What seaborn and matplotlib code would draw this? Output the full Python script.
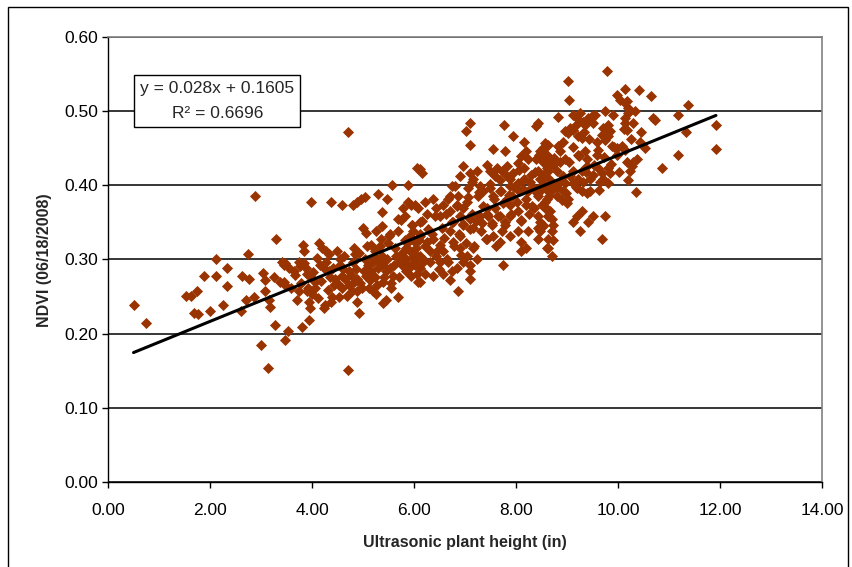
import pandas as pd
import seaborn as sns
import matplotlib.pyplot as plt
from matplotlib.patches import Rectangle

# points (height in, NDVI)
left_tail = [(0.50,0.238),(0.75,0.214),(1.52,0.251),(1.62,0.251),(1.68,0.228),(1.74,0.257),(1.76,0.226),
             (1.88,0.278),(2.00,0.230),(2.12,0.301),(2.12,0.278),(2.26,0.238),(2.34,0.288),(2.34,0.264),
             (2.61,0.230),(2.63,0.278),(2.71,0.246),(2.75,0.308),(2.77,0.274),(2.87,0.250),(2.89,0.385),
             (2.99,0.185),(3.03,0.282),(3.07,0.273),(3.07,0.258),(3.13,0.153),(3.15,0.246),(3.17,0.236),
             (3.25,0.276),(3.27,0.212),(3.29,0.327),(3.37,0.270),(3.45,0.293),(3.47,0.192),(3.52,0.203)]

mid_low = [(4.71,0.472),(6.12,0.422),(5.56,0.400),(5.88,0.400),(3.98,0.377),(4.38,0.378),(4.59,0.374),
           (4.81,0.374),(4.89,0.378),(4.97,0.381),(5.03,0.384),(5.29,0.388),(5.47,0.382),(5.37,0.364),
           (5.78,0.369),(5.88,0.378),(5.94,0.373),(5.74,0.353),(5.68,0.355),(5.82,0.358),(4.99,0.343),
           (5.05,0.336),(5.25,0.338),(5.37,0.345),(5.52,0.335),(5.50,0.331),(3.82,0.319),(4.14,0.322),
           (4.20,0.315),(4.28,0.311),(4.34,0.308),(3.84,0.311),(4.55,0.301),(4.83,0.315),(4.85,0.308),
           (5.15,0.320),(5.23,0.312),(5.33,0.318),(5.37,0.305),
           (3.41,0.297),(3.47,0.295),(3.54,0.288),(3.64,0.284),(3.45,0.270),(3.47,0.266),(3.74,0.297),
           (3.76,0.291),(3.84,0.295),(3.90,0.281),(3.96,0.278),(3.74,0.258),(3.90,0.258),(4.00,0.254),
           (4.06,0.261),(4.06,0.270),(3.94,0.243),(3.96,0.234),(4.24,0.234),(4.26,0.238),(3.94,0.218),
           (3.80,0.209),(4.16,0.292),(4.24,0.288),(4.34,0.284),(4.36,0.277),(4.46,0.274),(4.44,0.265),
           (4.55,0.292),(4.59,0.278),(4.65,0.274),(4.73,0.284),(4.40,0.250),(4.53,0.250),(4.59,0.261),
           (4.73,0.265),(4.79,0.258),(4.89,0.257),(4.83,0.270),(4.89,0.274),(4.95,0.268),(4.89,0.243),
           (4.93,0.228),(4.71,0.151),(5.03,0.301),(5.09,0.292),(5.19,0.297),(5.29,0.288),(5.05,0.278),
           (5.13,0.272),(5.23,0.277),(5.19,0.258),(5.25,0.254),(5.39,0.292),(5.45,0.284),(5.52,0.288),
           (5.58,0.278),(5.39,0.270),(5.45,0.245),(5.39,0.241),(5.54,0.261),(5.68,0.250),(5.64,0.305),
           (5.72,0.297),(5.78,0.291),(5.84,0.301),(5.92,0.311),(5.98,0.304),(6.04,0.315),(6.12,0.305),
           (6.02,0.292),(6.12,0.288),(5.84,0.284),(5.94,0.278),(6.12,0.270),(5.82,0.326),(5.92,0.332),
           (6.02,0.324),(6.12,0.335),(5.98,0.339),(5.84,0.315)]

mid_fill = [(3.58,0.262),(3.66,0.279),(3.71,0.246),(3.79,0.268),(3.88,0.289),(3.93,0.262),(4.02,0.283),
            (4.09,0.302),(4.11,0.248),(4.18,0.271),(4.27,0.296),(4.31,0.259),(4.38,0.242),(4.42,0.289),
            (4.49,0.312),(4.52,0.266),(4.61,0.287),(4.63,0.305),(4.69,0.251),(4.76,0.279),(4.81,0.296),
            (4.87,0.287),(4.92,0.309),(4.98,0.262),(5.01,0.285),(5.07,0.318),(5.11,0.261),(5.16,0.284),
            (5.21,0.305),(5.27,0.266),(5.31,0.296),(5.35,0.327),(5.42,0.276),(5.47,0.301),(5.49,0.322),
            (5.55,0.268),(5.61,0.292),(5.63,0.315),(5.69,0.338),(5.71,0.276),(5.76,0.309),(5.81,0.296),
            (5.87,0.322),(5.91,0.289),(5.96,0.347),(6.01,0.308),(6.06,0.281),(6.09,0.326),(6.15,0.352),
            (6.19,0.299)]

upper_mid = [(7.10,0.484),(7.02,0.473),(7.10,0.454),(7.77,0.481),(8.39,0.480),(8.44,0.484),(7.95,0.466),
             (8.15,0.459),(7.55,0.449),(7.79,0.446),(8.19,0.446),(8.09,0.439),(8.03,0.430),(8.15,0.423),
             (8.54,0.450),(8.62,0.454),(8.52,0.439),(8.39,0.436),(6.05,0.423),(6.15,0.416),(6.96,0.426),
             (6.90,0.412),(7.10,0.416),(7.24,0.419),(7.16,0.409),(7.43,0.427),(7.49,0.420),(7.63,0.423),
             (7.73,0.420),(7.83,0.426),(7.59,0.412),(7.69,0.407),(7.89,0.409),(7.95,0.416),(8.03,0.403),
             (8.15,0.409),(8.29,0.414),(8.43,0.420),(8.52,0.414),(8.62,0.426),(6.74,0.399),(6.80,0.399),
             (6.70,0.386),(6.86,0.386),(7.06,0.396),(7.14,0.405),(7.30,0.399),(7.26,0.385),(7.36,0.392),
             (7.49,0.396),(7.55,0.385),(7.69,0.392),(7.89,0.399),(7.83,0.382),(7.93,0.386),(8.05,0.392),
             (8.23,0.393),(8.35,0.396),(8.44,0.385),(8.54,0.400),(8.64,0.396),(8.64,0.386)]

center = [(6.01,0.373),(6.07,0.369),(6.21,0.378),(6.37,0.382),(6.25,0.362),(6.11,0.351),(5.97,0.346),
          (6.44,0.369),(6.56,0.373),(6.50,0.358),(6.66,0.382),(6.70,0.365),(6.84,0.373),(6.90,0.359),
          (6.96,0.369),(7.04,0.378),(6.76,0.351),(6.96,0.346),(7.10,0.355),(7.16,0.342),(7.30,0.359),
          (7.34,0.349),(7.43,0.369),(7.45,0.359),(7.53,0.346),(7.59,0.369),(7.69,0.358),(7.79,0.346),
          (7.89,0.373),(7.89,0.359),(8.03,0.365),(8.09,0.353),(8.19,0.373),(8.25,0.362),(8.35,0.369),
          (8.44,0.358),(8.52,0.345),(8.58,0.369),(8.62,0.358),(7.73,0.338),(8.03,0.338),(8.23,0.338),
          (8.44,0.342),(5.97,0.328),(6.11,0.332),(6.25,0.324),(6.37,0.328),(6.50,0.319),(6.31,0.311),
          (6.44,0.305),(6.56,0.311),(6.64,0.301),(6.50,0.297),(6.76,0.324),(6.90,0.332),(6.90,0.315),
          (7.04,0.305),(7.16,0.315),(7.24,0.301),(6.96,0.297),(7.10,0.292),(6.84,0.288),(6.74,0.284),
          (6.56,0.281),(6.37,0.278),(6.21,0.281),(6.07,0.270),(6.70,0.272),(7.10,0.284),(7.10,0.274),
          (6.86,0.257),(7.43,0.328),(7.55,0.332),(7.69,0.324),(7.89,0.332),(8.09,0.324),(8.09,0.312),
          (8.19,0.315),(7.75,0.293),(8.43,0.328),(8.62,0.315),(8.62,0.328),(6.05,0.301),(6.17,0.297),
          (5.95,0.292)]

center_fill = [(6.22,0.318),(6.27,0.341),(6.31,0.296),(6.36,0.334),(6.41,0.358),(6.45,0.312),(6.49,0.287),
               (6.54,0.342),(6.58,0.329),(6.62,0.361),(6.66,0.296),(6.71,0.338),(6.75,0.351),(6.79,0.318),
               (6.84,0.372),(6.88,0.335),(6.92,0.306),(6.96,0.348),(7.01,0.322),(7.06,0.384),(7.09,0.341),
               (7.14,0.362),(7.18,0.318),(7.22,0.352),(7.27,0.391),(7.31,0.338),(7.35,0.372),(7.41,0.327),
               (7.44,0.361),(7.48,0.402),(7.53,0.349),(7.57,0.381),(7.61,0.318),(7.65,0.358),(7.71,0.392),
               (7.74,0.376),(7.79,0.351),(7.83,0.412),(7.87,0.387),(7.91,0.362),(7.96,0.398),(8.01,0.378),
               (8.05,0.421),(8.09,0.352),(8.14,0.395),(8.19,0.381),(8.23,0.436),(8.28,0.404),(8.32,0.372),
               (8.37,0.418),(8.41,0.389),(8.46,0.441),(8.51,0.401),(8.56,0.377)]

upper_right = [(9.78,0.554),(9.02,0.541),(9.04,0.515),(10.14,0.530),(10.41,0.528),(10.65,0.520),(9.98,0.522),
               (10.04,0.515),(10.14,0.511),(10.20,0.504),(10.18,0.514),(10.33,0.500),(9.75,0.500),(9.90,0.495),
               (8.82,0.492),(9.12,0.495),(9.20,0.491),(9.25,0.497),(9.31,0.486),(9.41,0.491),(9.49,0.493),
               (9.55,0.495),(9.35,0.481),(9.51,0.484),(9.18,0.481),(10.14,0.491),(10.20,0.497),(10.29,0.484),
               (10.14,0.484),(10.69,0.491),(10.73,0.488),(11.18,0.495),(9.71,0.477),(9.80,0.481),(9.84,0.473),
               (9.69,0.468),(9.80,0.466),(9.75,0.461),(10.18,0.474),(8.96,0.473),(9.06,0.477),(9.02,0.470),
               (9.12,0.474),(9.22,0.466),(9.29,0.464),(8.57,0.457),(8.53,0.450),(8.47,0.446),(8.61,0.441),
               (8.82,0.453),(8.92,0.459),(10.43,0.459),(9.88,0.453),(9.98,0.450),(10.08,0.453),(10.14,0.447),
               (9.35,0.446),(9.61,0.447),(9.59,0.441),(9.39,0.436),(11.18,0.441),(9.98,0.441),(10.37,0.436),
               (10.29,0.432),(10.27,0.426),(10.24,0.419),(10.20,0.407),(10.86,0.423)]

lower_right = [(8.47,0.441),(8.53,0.432),(8.61,0.423),(8.67,0.436),(8.73,0.427),(8.80,0.419),(8.86,0.432),
               (8.96,0.436),(9.22,0.441),(9.12,0.419),(9.29,0.419),(9.39,0.426),(9.51,0.414),(9.61,0.423),
               (9.69,0.416),(9.80,0.423),(9.71,0.409),(9.84,0.416),(9.65,0.405),(9.80,0.403),(9.31,0.405),
               (9.45,0.409),(9.29,0.392),(9.39,0.389),(9.45,0.392),(8.47,0.409),(8.57,0.412),(8.67,0.407),
               (8.53,0.400),(8.63,0.393),(8.76,0.400),(8.86,0.405),(8.96,0.403),(9.06,0.412),(9.12,0.403),
               (9.22,0.409),(9.20,0.396),(8.92,0.392),(8.80,0.386),(8.47,0.392),(8.90,0.380),(9.00,0.376),
               (9.02,0.382),(8.61,0.382),(8.51,0.373),(8.57,0.369),(8.67,0.365),(8.63,0.359),(8.71,0.355),
               (8.73,0.346),(8.71,0.338),(8.73,0.326),(8.61,0.315),(8.71,0.305),(8.47,0.351),(8.47,0.338),
               (8.53,0.346),(9.20,0.358),(9.12,0.351),(9.29,0.365),(9.41,0.351),(9.51,0.359),(9.25,0.338),
               (9.69,0.328),(9.75,0.358)]

right_fill = [(8.63,0.419),(8.68,0.392),(8.74,0.437),(8.81,0.398),(8.86,0.446),(8.93,0.412),(8.98,0.389),
              (9.04,0.431),(9.11,0.452),(9.17,0.398),(9.24,0.439),(9.33,0.472),(9.38,0.418),(9.44,0.462),
              (9.52,0.427),(9.58,0.458),(9.63,0.394),(9.72,0.438),(9.81,0.472),(9.86,0.429),(9.93,0.452),
              (10.02,0.418),(10.11,0.476),(10.17,0.432),(10.26,0.462),(10.35,0.391),(10.46,0.472),(10.52,0.451)]

far_right = [(11.37,0.509),(11.33,0.472),(11.92,0.481),(11.92,0.449)]

slope = 0.028
intercept = 0.1605
eq_text = "y = 0.028x + 0.1605\nR² = 0.6696"

pts = (left_tail + mid_low + mid_fill + upper_mid + center + center_fill
       + upper_right + lower_right + right_fill + far_right)
df = pd.DataFrame(pts, columns=['height', 'ndvi'])

sns.set_style("white")
plt.rcParams['font.family'] = ['Liberation Sans', 'DejaVu Sans']

fig = plt.figure(figsize=(8.52, 5.67), dpi=100)
ax = fig.add_axes([0.1268, 0.150, 0.838, 0.7847])

ax.yaxis.grid(True, color='black', lw=1.1, zorder=0)
ax.set_axisbelow(True)
sns.scatterplot(data=df, x='height', y='ndvi', marker='D', color='#993300',
                s=32, linewidth=0, ax=ax, zorder=3)

# linear trendline over the data range
x0, x1 = df['height'].min(), df['height'].max()
ax.plot([x0, x1], [slope * x0 + intercept, slope * x1 + intercept],
        color='black', lw=2.2, zorder=4)

ax.set_xlim(0, 14)
ax.set_ylim(0, 0.6)
ax.set_xticks([0, 2, 4, 6, 8, 10, 12, 14])
ax.set_yticks([0, 0.1, 0.2, 0.3, 0.4, 0.5, 0.6])
ax.xaxis.set_major_formatter(plt.FormatStrFormatter('%.2f'))
ax.yaxis.set_major_formatter(plt.FormatStrFormatter('%.2f'))
ax.tick_params(direction='out', length=4, width=1, labelsize=12.5,
               color='black', labelcolor='black', left=True, bottom=True)
ax.tick_params(axis='x', pad=11)
ax.tick_params(axis='y', pad=3)
ax.set_xlabel('')
ax.set_ylabel('')

for s in ['left', 'bottom']:
    ax.spines[s].set_color('black')
    ax.spines[s].set_linewidth(1)
for s in ['top', 'right']:
    ax.spines[s].set_color('#808080')
    ax.spines[s].set_linewidth(1.2)

ax.text(0.153, 0.856, eq_text, transform=ax.transAxes, ha='center', va='center',
        fontsize=12.5, linespacing=1.85, zorder=6,
        bbox=dict(boxstyle='square,pad=0.33', fc='white', ec='black', lw=1))

fig.text(465 / 852, 1 - 542 / 567, 'Ultrasonic plant height (in)', ha='center', va='center',
         fontsize=11.5, fontweight='bold')
fig.text(45 / 852, 1 - 260 / 567, 'NDVI (06/18/2008)', ha='center', va='center',
         rotation=90, fontsize=11.5, fontweight='bold')

# chart area border
fig.add_artist(Rectangle((8 / 852, -0.05), 840 / 852, 1 - 7 / 567 + 0.05,
                         transform=fig.transFigure, fill=False, ec='black', lw=1))

fig.savefig('out.png', dpi=100)
